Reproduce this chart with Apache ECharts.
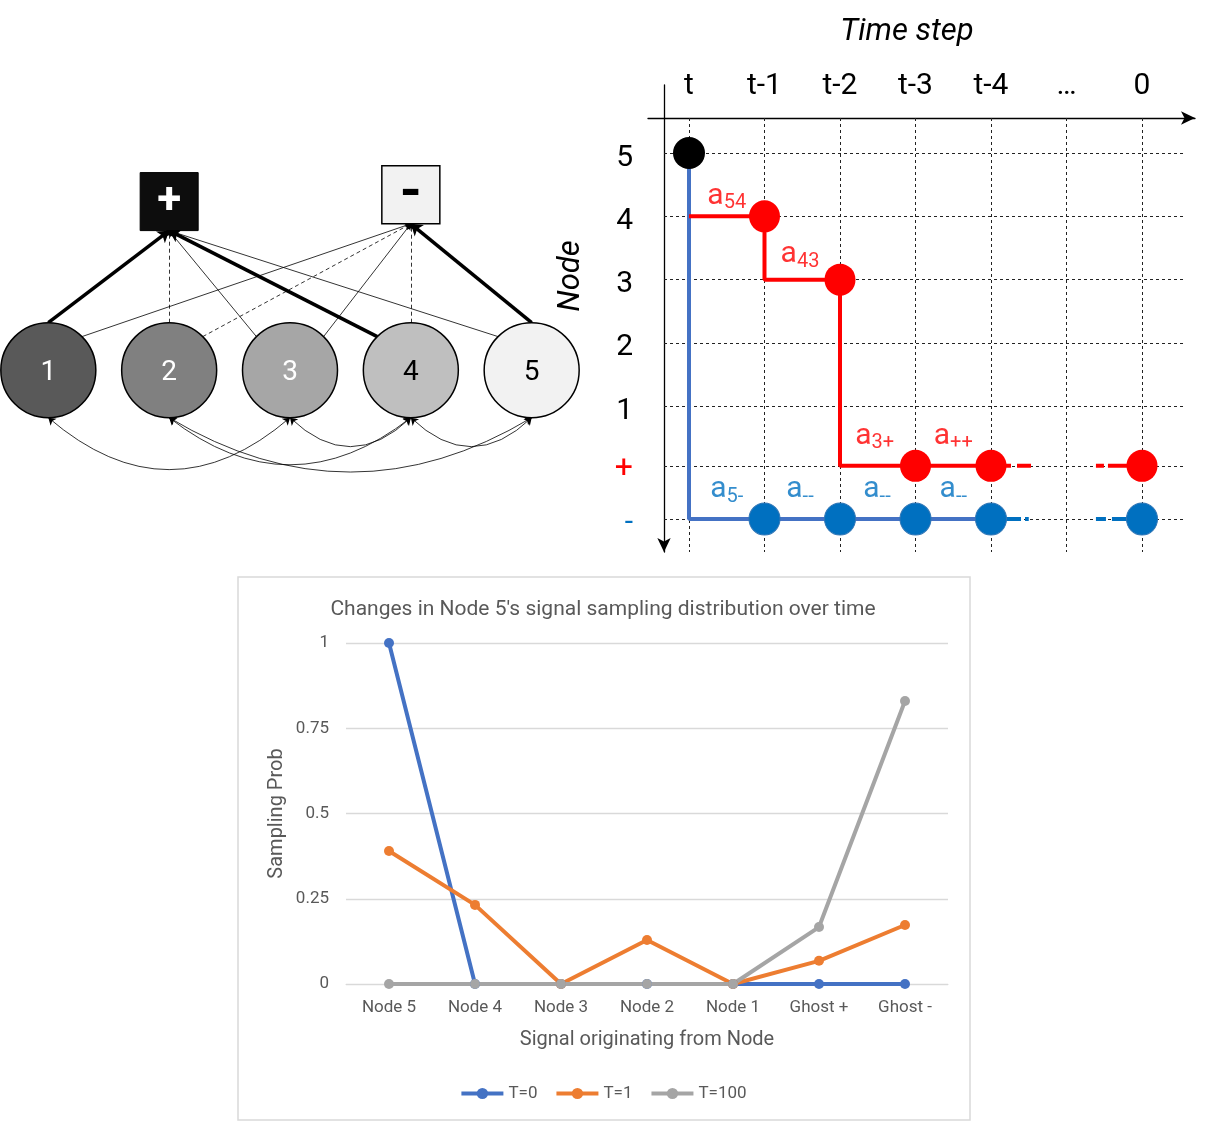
<!DOCTYPE html>
<html><head><meta charset="utf-8">
<script src="https://cdn.jsdelivr.net/npm/echarts@6/dist/echarts.min.js"></script>
<style>html,body{margin:0;padding:0;background:#fff}#c{width:1206px;height:1121px}</style>
</head><body><div id="c"></div>
<script>
// ================= DATA =================
// Bottom line chart
const categories = ['Node 5', 'Node 4', 'Node 3', 'Node 2', 'Node 1', 'Ghost +', 'Ghost -'];
const seriesNames = ['T=0', 'T=1', 'T=100'];
const valuesT0 = [1, 0, 0, 0, 0, 0, 0];
const valuesT1 = [0.39, 0.232, 0, 0.129, 0, 0.068, 0.173];
const valuesT100 = [0, 0, 0, 0, 0, 0.167, 0.83];

// Time-step diagram (column index, row label)
const timeLabels = ['t', 't-1', 't-2', 't-3', 't-4', '…', '0'];
const rowLabels = ['5', '4', '3', '2', '1', '+', '-'];
const rowValues = [5, 4, 3, 2, 1, 0.06, -0.78];
const startDot = [[0, '5']];
const bluePath = [[0, '5'], [0, '-'], [4, '-']];
const redPath = [[0, '4'], [1, '4'], [1, '3'], [2, '3'], [2, '+'], [4, '+']];
const redTails = [[[4, '+'], [4.53, '+']], [[5.39, '+'], [6, '+']]];
const blueTails = [[[4, '-'], [4.5, '-']], [[5.39, '-'], [6, '-']]];
const redDots = [[1, '4'], [2, '3'], [3, '+'], [4, '+'], [6, '+']];
const blueDots = [[1, '-'], [2, '-'], [3, '-'], [4, '-'], [6, '-']];
const redTransLabels = [[0.5, 4.32, '54'], [1.47, 3.39, '43'], [2.46, 0.53, '3+'], [3.5, 0.53, '++']];
const blueTransLabels = [[0.5, -0.32, '5-'], [1.47, -0.32, '--'], [2.49, -0.32, '--'], [3.5, -0.32, '--']];

// Node graph
const nodeIds = [1, 2, 3, 4, 5];
const ghosts = [{ name: '+', above: 2, level: 0.98 }, { name: '-', above: 4, level: 1.02 }];
// [from node, to ghost, anchor on node, style]
const edges = [
  [1, '+', 'top', 'thick'], [2, '+', 'top', 'dashed'], [3, '+', 'ul', 'thin'], [4, '+', 'ul', 'thick'], [5, '+', 'ul', 'thin'],
  [1, '-', 'ur', 'thin'], [2, '-', 'ur', 'dashed'], [3, '-', 'ur', 'thin'], [4, '-', 'top', 'dashed'], [5, '-', 'top', 'thick']
];
const arcs = [[1, 3], [3, 4], [4, 5], [2, 4], [2, 5]];

// ================= STYLE =================
const FONT = 'Roboto, "Noto Sans", sans-serif';
const GRAY_TXT = '#595959';
const lineColors = ['#4472C4', '#ED7D31', '#A5A5A5'];
const nodeFill = ['#595959', '#808080', '#A6A6A6', '#BFBFBF', '#F2F2F2'];
const nodeText = ['#fff', '#fff', '#fff', '#000', '#000'];
const arcCurve = [-0.43, -0.48, -0.48, -0.39, -0.3];
const NODE_R = { x: 0.393, y: 0.276 };
const BOX_HALF = 0.169;
const RED = '#FF0000', BLUE_DOT = '#0070C0', BLUE_LINE = '#4472C4';

const rowVal = l => rowValues[rowLabels.indexOf(l)];
const P = ([c, r]) => [c, typeof r === 'string' ? rowVal(r) : r];

// time-step grid extents
const TS = { xMin: -0.543, xMax: 6.702, yMin: -1.301, yMax: 6.074, axisY: 5.553, axisX: -0.331, right: 6.57 };

const gridLines = [];
timeLabels.forEach((_, i) => gridLines.push({ coords: [[i, TS.axisY], [i, TS.yMin]] }));
rowValues.forEach(v => gridLines.push({ coords: [[TS.axisX, v], [TS.right, v]] }));

function anchor(n, a) {
  if (a === 'top') return [n, NODE_R.y];
  if (a === 'ul') return [n - 0.707 * NODE_R.x, 0.707 * NODE_R.y];
  return [n + 0.707 * NODE_R.x, 0.707 * NODE_R.y];
}
function edgeData(style) {
  return edges.filter(e => e[3] === style).map(e => {
    const g = ghosts.find(gg => gg.name === e[1]);
    return { coords: [anchor(e[0], e[2]), [g.above, g.level - BOX_HALF]] };
  });
}
const arcData = arcs.map((a, i) => ({
  coords: [[a[0], -NODE_R.y], [a[1], -NODE_R.y]],
  lineStyle: { curveness: arcCurve[i] }
}));

const subRich = color => ({
  a: { fontSize: 30, color: color, fontFamily: FONT, lineHeight: 34 },
  s: { fontSize: 20, color: color, fontFamily: FONT, lineHeight: 20, verticalAlign: 'bottom', padding: [8, 0, 0, 0] }
});

const chart = echarts.init(document.getElementById('c'));
chart.setOption({
  animation: false,
  backgroundColor: '#fff',
  textStyle: { fontFamily: FONT },
  title: {
    text: "Changes in Node 5's signal sampling distribution over time",
    left: 'center', top: 594,
    textStyle: { fontSize: 21, fontWeight: 'normal', color: GRAY_TXT, fontFamily: FONT }
  },
  legend: {
    data: seriesNames, left: 'center', top: 1080, itemWidth: 42, itemHeight: 14, itemGap: 17,
    lineStyle: { width: 4 },
    textStyle: { fontSize: 17, color: GRAY_TXT, fontFamily: FONT }
  },
  graphic: [
    { type: 'rect', shape: { x: 238, y: 577, width: 732, height: 543 }, style: { fill: 'none', stroke: '#D9D9D9', lineWidth: 1.5 }, z: -1 },
    { type: 'text', x: 907, y: 32, style: { text: 'Time step', font: 'italic 31px Roboto', fill: '#000', align: 'center', verticalAlign: 'middle' } },
    { type: 'text', x: 571, y: 276, rotation: Math.PI / 2, style: { text: 'Node', font: 'italic 31px Roboto', fill: '#000', align: 'center', verticalAlign: 'middle' } }
  ],
  grid: [
    { left: 346, right: 258, top: 643, bottom: 137 },
    { left: 648, right: 11, top: 85, bottom: 569 },
    { left: 0, width: 580, top: 150, height: 340.6 }
  ],
  xAxis: [
    {
      gridIndex: 0, type: 'category', data: categories, boundaryGap: true,
      axisLine: { show: true, lineStyle: { color: '#D9D9D9' } }, axisTick: { show: false },
      axisLabel: { fontSize: 17, color: GRAY_TXT, margin: 15, fontFamily: FONT },
      name: 'Signal originating from Node', nameLocation: 'middle', nameGap: 46,
      nameTextStyle: { fontSize: 20, color: GRAY_TXT, fontFamily: FONT }
    },
    {
      gridIndex: 1, type: 'value', min: TS.xMin, max: TS.xMax, position: 'top', offset: -33,
      axisLine: { show: true, onZero: false, symbol: ['none', 'arrow'], symbolSize: [10, 14], lineStyle: { color: '#000', width: 1.3 } },
      axisTick: { show: false }, splitLine: { show: false },
      axisLabel: { customValues: timeLabels.map((_, i) => i), formatter: v => timeLabels[Math.round(v)], fontSize: 30, color: '#000', margin: 17, fontFamily: FONT }
    },
    { gridIndex: 2, type: 'value', min: 0.6, max: 5.4, show: false }
  ],
  yAxis: [
    {
      gridIndex: 0, type: 'value', min: 0, max: 1, interval: 0.25,
      axisLine: { show: false }, axisTick: { show: false },
      splitLine: { lineStyle: { color: '#D9D9D9', width: 1.3 } },
      axisLabel: { fontSize: 17, color: GRAY_TXT, margin: 17, fontFamily: FONT },
      name: 'Sampling Prob', nameLocation: 'middle', nameRotate: 90, nameGap: 59,
      nameTextStyle: { fontSize: 20, color: GRAY_TXT, fontFamily: FONT }
    },
    {
      gridIndex: 1, type: 'value', min: TS.yMin, max: TS.yMax, position: 'left', offset: -16,
      axisLine: { show: true, onZero: false, symbol: ['arrow', 'none'], symbolSize: [10, 14], lineStyle: { color: '#000', width: 1.3 } },
      axisTick: { show: false }, splitLine: { show: false },
      axisLabel: {
        customValues: rowValues, margin: 31, fontFamily: FONT,
        formatter: v => {
          let best = 0;
          rowValues.forEach((r, i) => { if (Math.abs(r - v) < Math.abs(rowValues[best] - v)) best = i; });
          const l = rowLabels[best];
          return l === '+' ? '{p|+}' : l === '-' ? '{m|-}' : '{n|' + l + '}';
        },
        rich: {
          n: { fontSize: 30, color: '#000', fontFamily: FONT, padding: [10, 0, 0, 0] },
          p: { fontSize: 32, color: RED, fontFamily: FONT, padding: [6, 0, 0, 0] },
          m: { fontSize: 30, color: BLUE_DOT, fontFamily: FONT, padding: [8, 0, 0, 0] }
        }
      }
    },
    { gridIndex: 2, type: 'value', min: -0.7, max: 1.28, show: false }
  ],
  series: [
    // ---- bottom line chart ----
    ...[valuesT0, valuesT1, valuesT100].map((vals, i) => ({
      name: seriesNames[i], type: 'line', xAxisIndex: 0, yAxisIndex: 0, data: vals,
      symbol: 'circle', symbolSize: 10, color: lineColors[i],
      lineStyle: { width: 4, color: lineColors[i] }, itemStyle: { color: lineColors[i] }
    })),
    // ---- time-step diagram ----
    {
      type: 'lines', coordinateSystem: 'cartesian2d', xAxisIndex: 1, yAxisIndex: 1, z: 1,
      data: gridLines, symbol: 'none', lineStyle: { color: '#222', width: 1, type: [3, 3], opacity: 1 }
    },
    {
      type: 'line', xAxisIndex: 1, yAxisIndex: 1, data: bluePath.map(P), symbol: 'none', z: 3,
      lineStyle: { color: BLUE_LINE, width: 4 }
    },
    {
      type: 'line', xAxisIndex: 1, yAxisIndex: 1, data: redPath.map(P), symbol: 'none', z: 3,
      lineStyle: { color: RED, width: 4 }
    },
    {
      type: 'line', xAxisIndex: 1, yAxisIndex: 1, data: redTails[0].map(P), symbol: 'none', z: 3,
      lineStyle: { color: RED, width: 4, type: [20, 6] }
    },
    {
      type: 'line', xAxisIndex: 1, yAxisIndex: 1, data: redTails[1].map(P), symbol: 'none', z: 3,
      lineStyle: { color: RED, width: 4, type: [8, 4, 60, 0] }
    },
    {
      type: 'line', xAxisIndex: 1, yAxisIndex: 1, data: blueTails[0].map(P), symbol: 'none', z: 3,
      lineStyle: { color: BLUE_DOT, width: 4, type: [30, 4, 4, 40] }
    },
    {
      type: 'line', xAxisIndex: 1, yAxisIndex: 1, data: blueTails[1].map(P), symbol: 'none', z: 3,
      lineStyle: { color: BLUE_DOT, width: 4, type: [10, 6, 60, 0] }
    },
    {
      type: 'scatter', xAxisIndex: 1, yAxisIndex: 1, data: startDot.map(P), symbolSize: 32, z: 4,
      itemStyle: { color: '#000', opacity: 1 }
    },
    {
      type: 'scatter', xAxisIndex: 1, yAxisIndex: 1, data: redDots.map(P), symbolSize: [31, 32], z: 4,
      itemStyle: { color: RED, opacity: 1 }
    },
    {
      type: 'scatter', xAxisIndex: 1, yAxisIndex: 1, data: blueDots.map(P), symbolSize: [31, 32], z: 4,
      itemStyle: { color: BLUE_DOT, opacity: 1, borderColor: '#2E75B6', borderWidth: 1 }
    },
    {
      type: 'scatter', xAxisIndex: 1, yAxisIndex: 1, symbolSize: 1, z: 5,
      data: redTransLabels.map(d => ({ value: [d[0], d[1]], sub: d[2] })),
      itemStyle: { color: 'rgba(0,0,0,0)' },
      label: { show: true, position: 'inside', formatter: p => '{a|a}{s|' + p.data.sub + '}', rich: subRich(RED) }
    },
    {
      type: 'scatter', xAxisIndex: 1, yAxisIndex: 1, symbolSize: 1, z: 5,
      data: blueTransLabels.map(d => ({ value: [d[0], d[1]], sub: d[2] })),
      itemStyle: { color: 'rgba(0,0,0,0)' },
      label: { show: true, position: 'inside', formatter: p => '{a|a}{s|' + p.data.sub + '}', rich: subRich(BLUE_DOT) }
    },
    // ---- node graph ----
    {
      type: 'lines', coordinateSystem: 'cartesian2d', xAxisIndex: 2, yAxisIndex: 2, z: 1,
      data: edgeData('thick'), symbol: ['none', 'arrow'], symbolSize: 11,
      lineStyle: { color: '#000', width: 3.5, opacity: 1 }
    },
    {
      type: 'lines', coordinateSystem: 'cartesian2d', xAxisIndex: 2, yAxisIndex: 2, z: 1,
      data: edgeData('thin'), symbol: ['none', 'arrow'], symbolSize: 6,
      lineStyle: { color: '#000', width: 0.8, opacity: 1 }
    },
    {
      type: 'lines', coordinateSystem: 'cartesian2d', xAxisIndex: 2, yAxisIndex: 2, z: 1,
      data: edgeData('dashed'), symbol: ['none', 'arrow'], symbolSize: 6,
      lineStyle: { color: '#000', width: 0.8, type: [4, 3], opacity: 1 }
    },
    {
      type: 'lines', coordinateSystem: 'cartesian2d', xAxisIndex: 2, yAxisIndex: 2, z: 1,
      data: arcData, symbol: ['arrow', 'arrow'], symbolSize: 7,
      lineStyle: { color: '#000', width: 0.8, opacity: 1 }
    },
    {
      type: 'scatter', xAxisIndex: 2, yAxisIndex: 2, z: 4, symbol: 'circle', symbolSize: 95,
      data: nodeIds.map((n, i) => ({
        value: [n, 0], name: String(n),
        itemStyle: { color: nodeFill[i], borderColor: '#000', borderWidth: 1.5, opacity: 1 },
        label: { color: nodeText[i] }
      })),
      label: { show: true, position: 'inside', formatter: '{b}', fontSize: 28, fontFamily: FONT, offset: [0, 3] }
    },
    {
      type: 'scatter', xAxisIndex: 2, yAxisIndex: 2, z: 4, symbol: 'rect', symbolSize: 58,
      data: ghosts.map((g, i) => ({
        value: [g.above, g.level], name: g.name,
        itemStyle: i === 0 ? { color: '#0D0D0D', borderColor: '#000', borderWidth: 1, opacity: 1 } : { color: '#F2F2F2', borderColor: '#000', borderWidth: 1.5, opacity: 1 },
        label: i === 0 ? { color: '#fff', fontSize: 44 } : { color: '#000', fontSize: 56 }
      })),
      label: { show: true, position: 'inside', formatter: '{b}', fontWeight: 'bold', fontFamily: FONT }
    }
  ]
});
</script>
</body></html>
